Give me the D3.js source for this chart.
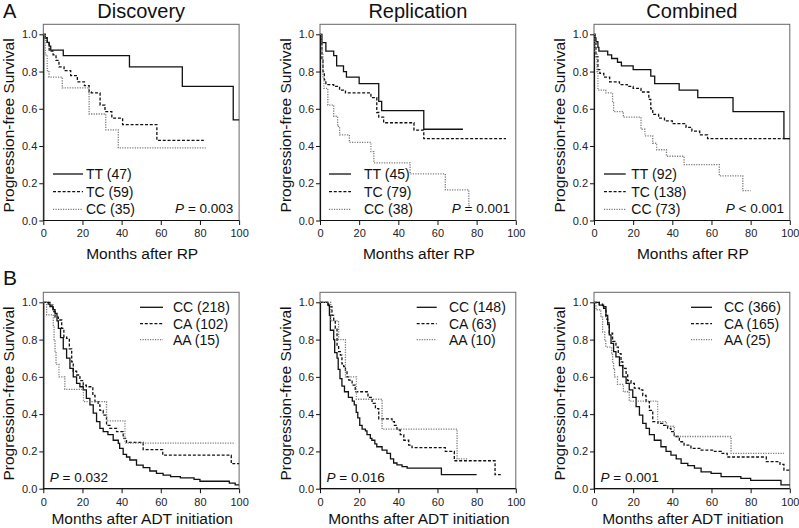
<!DOCTYPE html>
<html>
<head>
<meta charset="utf-8">
<script src="https://cdn.jsdelivr.net/npm/d3@7"></script>
<style>
  html, body { margin: 0; padding: 0; background: #fff; }
  svg { display: block; font-family: "Liberation Sans", Arial, Helvetica, sans-serif; }
</style>
</head>
<body>
<svg id="chart" width="799" height="528"></svg>
<script>
// ---------------- DATA ----------------
const titles = ["Discovery", "Replication", "Combined"];
const panelLetters = ["A", "B"];
const xLabels = ["Months after RP", "Months after ADT initiation"];
const yLabel = "Progression-free Survival";
const xTicks = [0, 20, 40, 60, 80, 100];
const yTicks = [0, 0.2, 0.4, 0.6, 0.8, 1.0];

const genoTop = ["TT", "TC", "CC"];
const genoBottom = ["CC", "CA", "AA"];
const nTop = [[47, 59, 35], [45, 79, 38], [92, 138, 73]];
const nBottom = [[218, 102, 15], [148, 63, 10], [366, 165, 25]];
const pTop = ["= 0.003", "= 0.001", "< 0.001"];
const pBottom = ["= 0.032", "= 0.016", "= 0.001"];

// Kaplan–Meier step points [month, survival]; last pair = end of follow-up
const discRP_TT = [[0,1],[1,0.98],[2,0.957],[3,0.936],[3.8,0.915],[10.2,0.885],[44,0.825],[71,0.72],[97,0.54],[100,0.54]];
const discRP_TC = [[0,1],[1,0.98],[2,0.95],[3,0.91],[5,0.89],[6.5,0.86],[8,0.825],[10.6,0.805],[14,0.778],[17.4,0.745],[21,0.724],[23.4,0.69],[24.5,0.685],[29,0.62],[31.5,0.585],[35,0.55],[40.5,0.515],[58,0.43],[82,0.43]];
const discRP_CC = [[0,1],[1,0.89],[2,0.805],[2.9,0.77],[9.7,0.712],[23.4,0.572],[31.9,0.487],[38.3,0.39],[83,0.39]];

const repRP_TT = [[0,1],[1,0.955],[3,0.91],[7,0.885],[8.5,0.83],[12,0.80],[13.5,0.77],[20,0.735],[30,0.64],[31.5,0.59],[53,0.49],[73,0.49]];
const repRP_TC = [[0,1],[0.5,0.95],[1,0.86],[1.5,0.80],[2.2,0.755],[3,0.73],[7,0.72],[10,0.70],[13,0.685],[26,0.66],[29,0.58],[30,0.555],[32.5,0.525],[48,0.485],[53,0.44],[95,0.44]];
const repRP_CC = [[0,1],[1,0.90],[1.5,0.765],[2,0.71],[4,0.62],[7,0.56],[9,0.505],[10,0.46],[15,0.42],[26,0.37],[27.5,0.31],[46,0.25],[64,0.165],[76,0.08],[76.5,0.08]];

const comRP_TT = [[0,1],[0.5,0.98],[1,0.96],[2,0.93],[2.5,0.91],[7,0.89],[9,0.87],[12,0.85],[14,0.83],[20,0.81],[29,0.775],[31,0.735],[43.5,0.70],[53,0.66],[71,0.585],[97,0.44],[100,0.44]];
const comRP_TC = [[0,1],[0.5,0.95],[1,0.88],[2,0.81],[3,0.79],[5,0.77],[8,0.745],[13,0.73],[17,0.72],[20,0.71],[24,0.69],[28,0.65],[29,0.60],[30,0.57],[33,0.55],[36,0.535],[40,0.52],[47,0.50],[50,0.48],[54,0.46],[58,0.44],[100,0.44]];
const comRP_CC = [[0,1],[0.5,0.90],[1.5,0.80],[2,0.70],[6,0.685],[9.5,0.64],[10,0.585],[15,0.555],[24,0.49],[26,0.455],[30,0.415],[32,0.38],[37,0.345],[46,0.30],[64,0.24],[76,0.16],[80,0.16]];

const discADT_CC = [[0,1],[2.5,0.99],[3.4,0.977],[5,0.96],[6,0.94],[7,0.90],[7.7,0.86],[8.8,0.81],[10.2,0.75],[11.9,0.70],[13.6,0.645],[15.3,0.60],[17,0.565],[18.7,0.547],[20.4,0.53],[22,0.485],[23.8,0.45],[25.5,0.405],[27.2,0.36],[28.9,0.324],[30.6,0.306],[33,0.29],[35.7,0.26],[38.3,0.243],[39,0.216],[40.8,0.184],[42.5,0.17],[44.2,0.154],[47.6,0.127],[51,0.113],[54.4,0.095],[57.8,0.082],[61.2,0.073],[65,0.065],[70,0.058],[77,0.05],[80,0.04],[95,0.03],[98,0.02],[100,0.02]];
const discADT_CA = [[0,1],[3.4,0.985],[5,0.95],[6,0.92],[7.7,0.905],[9.4,0.86],[10.5,0.815],[11.9,0.806],[13.3,0.75],[14.5,0.68],[15.3,0.63],[17,0.61],[18.7,0.58],[20.4,0.555],[22,0.547],[25.3,0.50],[26.4,0.467],[28,0.45],[28.9,0.42],[30.6,0.395],[32.3,0.34],[34,0.324],[37.4,0.306],[40.8,0.27],[42.5,0.248],[51,0.21],[61,0.18],[96,0.134],[100,0.134]];
const discADT_AA = [[0,1],[1.7,0.933],[5.1,0.867],[5.5,0.80],[6,0.733],[6.5,0.667],[8,0.60],[11,0.533],[20.5,0.467],[32.3,0.364],[41.7,0.245],[98,0.245]];

const repADT_CC = [[0,1],[4,0.985],[4.8,0.93],[5.3,0.85],[7,0.80],[7.5,0.73],[8.7,0.70],[9.3,0.64],[10.2,0.59],[11.2,0.55],[12.5,0.52],[14.5,0.49],[16.5,0.47],[17.5,0.45],[18.5,0.41],[19.3,0.38],[20.3,0.34],[21.5,0.32],[23.2,0.31],[24,0.29],[25.7,0.27],[26.5,0.26],[28,0.24],[29,0.225],[31.7,0.207],[34.2,0.19],[36,0.16],[37.6,0.138],[39.3,0.128],[41.9,0.118],[44.5,0.11],[62,0.075],[80,0.075]];
const repADT_CA = [[0,1],[4.4,0.977],[6.1,0.93],[7,0.905],[7.8,0.86],[8.7,0.77],[9.5,0.735],[10.4,0.717],[11.2,0.67],[12.1,0.655],[13,0.63],[13.8,0.60],[14.7,0.583],[16.4,0.556],[18,0.52],[24.5,0.49],[26.6,0.458],[28.3,0.43],[30,0.375],[36.8,0.36],[38,0.34],[39.3,0.315],[41,0.29],[42.8,0.26],[45.3,0.234],[47,0.22],[64,0.20],[68.6,0.15],[89.4,0.075],[92.3,0.075]];
const repADT_AA = [[0,1],[5.5,0.90],[9.5,0.80],[13,0.60],[18.6,0.48],[31.7,0.32],[70,0.16],[75.8,0.16]];

const comADT_CC = [[0,1],[2.7,0.985],[4.9,0.968],[6.1,0.93],[7,0.88],[7.8,0.825],[8.7,0.78],[10,0.735],[11.2,0.707],[13,0.66],[14.7,0.60],[16.4,0.565],[18,0.53],[19.8,0.49],[21.5,0.44],[23.2,0.395],[24.9,0.35],[26.6,0.324],[28.3,0.29],[30.8,0.26],[34.2,0.225],[36.8,0.20],[39.3,0.18],[42,0.16],[44.5,0.136],[47.9,0.124],[51.3,0.11],[54.7,0.09],[59.8,0.082],[64.9,0.065],[75,0.055],[80,0.045],[95.5,0.02],[100,0.02]];
const comADT_CA = [[0,1],[2.7,0.99],[4.4,0.977],[6.1,0.91],[7,0.89],[7.8,0.835],[9.5,0.79],[11.2,0.76],[12.4,0.725],[13.8,0.68],[14.7,0.645],[16.4,0.61],[17.2,0.58],[18.9,0.565],[20.6,0.54],[23.2,0.53],[24.9,0.50],[26.6,0.467],[28.3,0.42],[30,0.36],[32.7,0.35],[35.2,0.34],[37.6,0.324],[39.3,0.306],[41,0.28],[43.6,0.252],[46,0.234],[49.5,0.216],[54.7,0.207],[61.5,0.20],[65,0.19],[68,0.17],[88,0.145],[95,0.13],[97,0.10],[100,0.10]];
const comADT_AA = [[0,1],[1,0.96],[3.5,0.92],[4.4,0.84],[5.5,0.80],[6,0.76],[9,0.72],[9.5,0.68],[10,0.64],[10.5,0.60],[12,0.56],[15,0.52],[18,0.47],[32.5,0.36],[37,0.335],[41,0.28],[70,0.19],[97,0.19]];

// ---------------- LAYOUT ----------------
const svg = d3.select("#chart");
const colLeft = [43.3, 320, 594];
const plotW = 195.8;
const rows = [{y0: 220.5, y1: 34.3, xlab: 38.5}, {y0: 488.7, y1: 302.3, xlab: 35.5}];
const styles = [
  {stroke: "#111", dash: null, width: 1.3},
  {stroke: "#111", dash: "3,1.8", width: 1.3},
  {stroke: "#7a7a7a", dash: "1.2,1.3", width: 1.3}
];
const curvesTop = [[discRP_TT, discRP_TC, discRP_CC], [repRP_TT, repRP_TC, repRP_CC], [comRP_TT, comRP_TC, comRP_CC]];
const curvesBottom = [[discADT_CC, discADT_CA, discADT_AA], [repADT_CC, repADT_CA, repADT_AA], [comADT_CC, comADT_CA, comADT_AA]];

const legendTop = [
  {l1: 9.7, l2: 39.7, tx: 42.7}, {l1: 9, l2: 31, tx: 44}, {l1: 10, l2: 31.7, tx: 37.3}
];
const legendBottom = [
  {l1: 96.7, l2: 119.7, tx: 129.7}, {l1: 96.7, l2: 116.7, tx: 129}, {l1: 97, l2: 118, tx: 130}
];
const legendRowsTop = [139.7, 157.4, 175];
const legendRowsBottom = [5, 21.4, 37.4];

function drawPanel(r, c) {
  const row = rows[r];
  const left = colLeft[c];
  const x = d3.scaleLinear().domain([0, 100]).range([left, left + plotW]);
  const y = d3.scaleLinear().domain([0, 1]).range([row.y0, row.y1]);
  const g = svg.append("g");
  const frameTop = row.y1 - 10;

  // frame
  g.append("rect")
    .attr("x", x(0)).attr("y", frameTop)
    .attr("width", x(100) - x(0)).attr("height", y(0) - frameTop)
    .attr("fill", "none").attr("stroke", "#666").attr("stroke-width", 1);

  // axes
  const ax = g.append("g").attr("transform", `translate(0,${y(0)})`)
    .call(d3.axisBottom(x).tickValues(xTicks).tickSize(4.5).tickPadding(3).tickSizeOuter(0));
  const ay = g.append("g").attr("transform", `translate(${x(0)},0)`)
    .call(d3.axisLeft(y).tickValues(yTicks).tickFormat(d3.format(".1f")).tickSize(4).tickPadding(2).tickSizeOuter(0));
  [ax, ay].forEach(a => {
    a.select(".domain").attr("stroke", "#111").attr("stroke-width", 1.2);
    a.selectAll(".tick line").attr("stroke", "#111").attr("stroke-width", 1);
    a.selectAll(".tick text").attr("font-size", 11).attr("fill", "#222")
      .attr("font-family", '"Liberation Sans", Arial, sans-serif');
  });
  ax.selectAll(".tick text").attr("dy", "0.85em");
  ax.select(".domain").attr("d", `M${x(0)},0H${x(100)}`);

  // curves
  const line = d3.line().x(d => x(d[0])).y(d => y(d[1])).curve(d3.curveStepAfter);
  const curves = r === 0 ? curvesTop[c] : curvesBottom[c];
  curves.forEach((data, i) => {
    const s = styles[i];
    g.append("path").attr("d", line(data))
      .attr("fill", "none").attr("stroke", s.stroke)
      .attr("stroke-width", s.width)
      .attr("stroke-dasharray", s.dash);
  });

  // legend
  const leg = r === 0 ? legendTop[c] : legendBottom[c];
  const rowsY = r === 0 ? legendRowsTop : legendRowsBottom;
  const geno = r === 0 ? genoTop : genoBottom;
  const ns = r === 0 ? nTop[c] : nBottom[c];
  geno.forEach((gname, i) => {
    const yy = row.y1 + rowsY[i];
    const s = styles[i];
    g.append("line").attr("x1", left + leg.l1).attr("x2", left + leg.l2)
      .attr("y1", yy).attr("y2", yy)
      .attr("stroke", s.stroke).attr("stroke-width", s.width)
      .attr("stroke-dasharray", s.dash);
    g.append("text").attr("x", left + leg.tx).attr("y", yy + 5)
      .attr("font-size", 14).attr("fill", "#111")
      .text(`${gname} (${ns[i]})`);
  });

  // P value
  const pt = g.append("text").attr("font-size", 13.5).attr("fill", "#111");
  if (r === 0) {
    pt.attr("x", left + 190).attr("y", row.y0 - 7.5).attr("text-anchor", "end");
  } else {
    pt.attr("x", left + 6.5).attr("y", row.y0 - 6.7).attr("text-anchor", "start");
  }
  pt.append("tspan").attr("font-style", "italic").text("P");
  pt.append("tspan").text(" " + (r === 0 ? pTop[c] : pBottom[c]));

  // y label
  g.append("text")
    .attr("transform", `translate(${left - 29},${(y(0) + y(1)) / 2 - 2}) rotate(-90)`)
    .attr("text-anchor", "middle").attr("font-size", 15.5).attr("fill", "#111")
    .text(yLabel);

  // x label
  g.append("text")
    .attr("x", (x(0) + x(100)) / 2 + 1).attr("y", y(0) + row.xlab)
    .attr("text-anchor", "middle").attr("font-size", 15.5).attr("fill", "#111")
    .text(xLabels[r]);

  // title
  if (r === 0) {
    g.append("text")
      .attr("x", (x(0) + x(100)) / 2).attr("y", 18.3)
      .attr("text-anchor", "middle").attr("font-size", 20).attr("fill", "#111")
      .text(titles[c]);
  }
}

for (let r = 0; r < 2; r++) for (let c = 0; c < 3; c++) drawPanel(r, c);

svg.append("text").attr("x", 3).attr("y", 18.3).attr("font-size", 20).attr("fill", "#111").text(panelLetters[0]);
svg.append("text").attr("x", 3).attr("y", 285).attr("font-size", 21).attr("fill", "#111").text(panelLetters[1]);
</script>
</body>
</html>
